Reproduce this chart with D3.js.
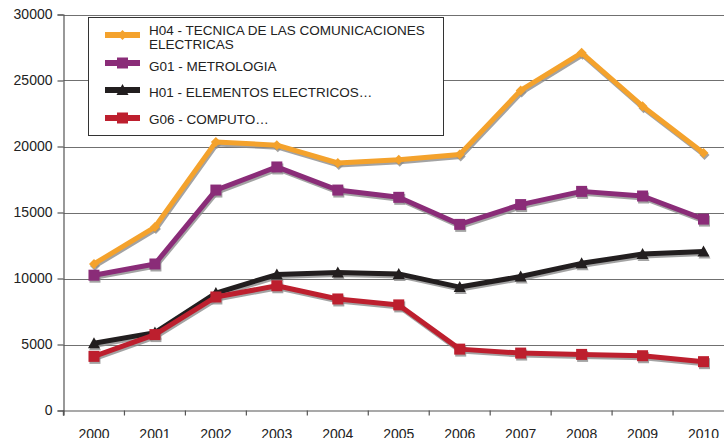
<!DOCTYPE html>
<html>
<head>
<meta charset="utf-8">
<script src="https://cdn.jsdelivr.net/npm/d3@7"></script>
<style>
  html, body { margin: 0; padding: 0; background: #fff; overflow: hidden; }
  svg { display: block; font-family: "Liberation Sans", Arial, sans-serif; }
</style>
</head>
<body>
<svg id="chart" width="724" height="438"></svg>
<script>
// Yearly totals per classification group
const years = ["2000","2001","2002","2003","2004","2005","2006","2007","2008","2009","2010"];
const h04 = [11100, 13900, 20350, 20100, 18750, 19000, 19400, 24250, 27100, 23050, 19500];
const g01 = [10250, 11100, 16700, 18450, 16700, 16150, 14100, 15600, 16600, 16250, 14500];
const h01 = [5100, 5900, 8900, 10300, 10450, 10350, 9350, 10150, 11150, 11850, 12050];
const g06 = [4100, 5750, 8600, 9450, 8450, 8000, 4650, 4350, 4250, 4150, 3700];
const yTicks = [0, 5000, 10000, 15000, 20000, 25000, 30000];

const seriesNames = [
  ["H04 - TECNICA DE LAS COMUNICACIONES", "ELECTRICAS"],
  ["G01 - METROLOGIA"],
  ["H01 - ELEMENTOS ELECTRICOS…"],
  ["G06 - COMPUTO…"]
];
const seriesColors = ["#f4a22c", "#8a2c78", "#221e1f", "#bd1f2e"];
const seriesShapes = ["diamond", "square", "triangle", "square"];
const seriesValues = [h04, g01, h01, g06];

const series = seriesValues.map((vals, i) => ({
  name: seriesNames[i], color: seriesColors[i], shape: seriesShapes[i],
  values: vals.map((v, j) => ({ year: years[j], value: v }))
}));

const svg = d3.select("#chart");

const x = d3.scaleBand().domain(years).range([63.5, 734]);
const y = d3.scaleLinear().domain([0, 30000]).range([410.5, 14.5]);
const cx = d => x(d.year) + x.bandwidth() / 2;

// Horizontal gridlines
svg.append("g").selectAll("line").data(yTicks.filter(t => t > 0)).join("line")
  .attr("x1", 63.5).attr("x2", 724)
  .attr("y1", d => Math.round(y(d)) + 0.5).attr("y2", d => Math.round(y(d)) + 0.5)
  .attr("stroke", "#707070").attr("stroke-width", 1.2);

// Y axis
const yAxis = d3.axisLeft(y).tickValues(yTicks).tickSize(6).tickPadding(5).tickFormat(d3.format("d"));
const gy = svg.append("g").attr("transform", "translate(63.5,0)").call(yAxis);
gy.select(".domain").attr("stroke", "#555").attr("stroke-width", 1.2);
gy.selectAll(".tick line").attr("stroke", "#555").attr("stroke-width", 1.2);
gy.selectAll(".tick text").attr("font-size", 14).attr("fill", "#222")
  .attr("font-family", "'Liberation Sans', Arial, sans-serif");

// X axis
const xAxis = d3.axisBottom(x).tickSize(5).tickPadding(0).tickFormat(d => d);
const gx = svg.append("g").attr("transform", "translate(0,410.5)").call(xAxis);
gx.select(".domain").attr("stroke", "#555").attr("stroke-width", 1.2);
// ticks sit on band boundaries
gx.selectAll(".tick line").attr("x1", -x.bandwidth() / 2).attr("x2", -x.bandwidth() / 2)
  .attr("stroke", "#555").attr("stroke-width", 1.2);
gx.append("line").attr("x1", x.range()[0]).attr("x2", x.range()[0]).attr("y1", 0).attr("y2", 5)
  .attr("stroke", "#555").attr("stroke-width", 1.2);
gx.selectAll(".tick text").attr("font-size", 14).attr("fill", "#222")
  .attr("font-family", "'Liberation Sans', Arial, sans-serif")
  .attr("dy", null).attr("y", 28);

// Marker path builder
function markerPath(shape, size) {
  const s = size / 2;
  if (shape === "diamond") return `M0,${-s}L${s},0L0,${s}L${-s},0Z`;
  if (shape === "triangle") return `M0,${-s - 1}L${s + 1},${s}L${-s - 1},${s}Z`;
  return `M${-s},${-s}H${s}V${s}H${-s}Z`;
}
const markerSize = { diamond: 10, square: 11, triangle: 10 };

const line = d3.line().x(cx).y(d => y(d.value));

// Lines with soft drop shadow
const plot = svg.append("g");
series.forEach(s => {
  const g = plot.append("g");
  g.append("path").datum(s.values).attr("d", line)
    .attr("transform", "translate(1,2)")
    .attr("fill", "none").attr("stroke", "#8c8c8c").attr("stroke-width", 5)
    .attr("stroke-linejoin", "round").attr("opacity", 0.8);
  g.selectAll("path.ms").data(s.values).join("path").attr("class", "ms")
    .attr("d", markerPath(s.shape, markerSize[s.shape]))
    .attr("transform", d => `translate(${cx(d) + 1},${y(d.value) + 2})`)
    .attr("fill", "#8c8c8c").attr("opacity", 0.8);
  g.append("path").datum(s.values).attr("d", line)
    .attr("fill", "none").attr("stroke", s.color).attr("stroke-width", 5)
    .attr("stroke-linejoin", "round");
  g.selectAll("path.m").data(s.values).join("path").attr("class", "m")
    .attr("d", markerPath(s.shape, markerSize[s.shape]))
    .attr("transform", d => `translate(${cx(d)},${y(d.value)})`)
    .attr("fill", s.color);
});

// Legend
const legend = svg.append("g");
legend.append("rect").attr("x", 88.5).attr("y", 17.5).attr("width", 355).attr("height", 118)
  .attr("fill", "#fff").attr("stroke", "#333").attr("stroke-width", 1);
const legendY = [35, 63, 90, 118];
const textY = [[35, 49], [71], [97], [124]];
series.forEach((s, i) => {
  const ly = legendY[i];
  legend.append("line").attr("x1", 105).attr("x2", 140).attr("y1", ly).attr("y2", ly)
    .attr("stroke", s.color).attr("stroke-width", 6);
  legend.append("path").attr("d", markerPath(s.shape, markerSize[s.shape]))
    .attr("transform", `translate(122.5,${ly})`).attr("fill", s.color);
  s.name.forEach((t, k) => {
    legend.append("text").attr("x", 149).attr("y", textY[i][k])
      .attr("font-size", 13.5).attr("fill", "#222").text(t);
  });
});
</script>
</body>
</html>
